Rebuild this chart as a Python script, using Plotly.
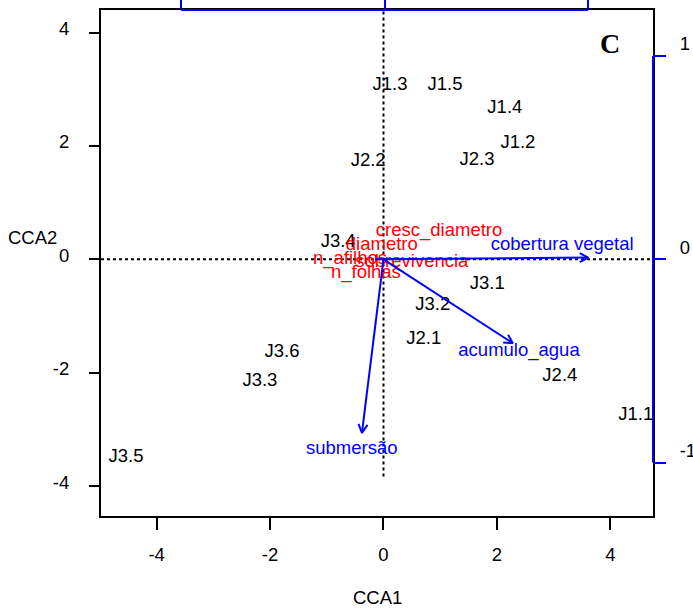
import numpy as np
import plotly.graph_objects as go

# --- data ---
site_labels = ["J1.3", "J1.5", "J1.4", "J1.2", "J2.3", "J2.2", "J3.4", "J3.1",
               "J3.2", "J2.1", "J3.6", "J3.3", "J2.4", "J1.1", "J3.5"]
site_x = [0.115, 1.085, 2.14, 2.37, 1.65, -0.27, -0.80, 1.83,
          0.87, 0.71, -1.79, -2.18, 3.11, 4.45, -4.54]
site_y = [3.07, 3.06, 2.67, 2.05, 1.75, 1.72, 0.30, -0.45,
          -0.82, -1.41, -1.65, -2.15, -2.07, -2.76, -3.50]

species_labels = ["cresc_diametro", "diametro", "n_afilhos", "sobrevivencia", "n_folhas"]
species_x = [0.98, -0.03, -0.59, 0.50, -0.31]
species_y = [0.50, 0.25, 0.00, -0.05, -0.24]

env_labels = ["cobertura vegetal", "acumulo_agua", "submersão"]
env_start_x = [-0.15, 0.0, 0.0]
env_start_y = [0.0, 0.0, 0.0]
env_tip_x = [3.61, 2.28, -0.38]
env_tip_y = [0.03, -1.48, -3.06]
env_label_x = [3.15, 2.39, -0.56]
env_label_y = [0.25, -1.63, -3.36]

x_ticks = [-4, -2, 0, 2, 4]
y_ticks = [-4, -2, 0, 2, 4]
blue_ticks = [-1, 0, 1]

x_range = [-4.982, 4.753]
y_range = [-4.527, 4.397]
x2_range = [-1.393, 1.319]
y2_range = [-1.263, 1.226]

FONT = "Liberation Sans, Arial, sans-serif"
BLUE = "#0000FF"
RED = "#FF0000"
FS = 18.5

fig = go.Figure()

# reference lines (dotted)
fig.add_trace(go.Scatter(x=[x_range[0], x_range[1]], y=[0, 0], mode="lines",
                         line=dict(color="black", width=2, dash="dot"),
                         hoverinfo="skip", showlegend=False))
fig.add_trace(go.Scatter(x=[0, 0], y=[-3.83, y_range[1]], mode="lines",
                         line=dict(color="black", width=2, dash="dot"),
                         hoverinfo="skip", showlegend=False))

# site labels
fig.add_trace(go.Scatter(x=site_x, y=site_y, mode="text", text=site_labels,
                         textfont=dict(family=FONT, size=FS, color="black"),
                         textposition="middle center", showlegend=False))

# species labels
fig.add_trace(go.Scatter(x=species_x, y=species_y, mode="text", text=species_labels,
                         textfont=dict(family=FONT, size=FS, color=RED),
                         textposition="middle center", showlegend=False))

# environmental arrows
L = 0.17
ang = np.deg2rad(28)
for sx, sy, tx, ty in zip(env_start_x, env_start_y, env_tip_x, env_tip_y):
    fig.add_trace(go.Scatter(x=[sx, tx], y=[sy, ty], mode="lines",
                             line=dict(color=BLUE, width=2),
                             hoverinfo="skip", showlegend=False))
    th = np.arctan2(ty - sy, tx - sx)
    hx = [tx - L * np.cos(th - ang), tx, tx - L * np.cos(th + ang)]
    hy = [ty - L * np.sin(th - ang), ty, ty - L * np.sin(th + ang)]
    fig.add_trace(go.Scatter(x=hx, y=hy, mode="lines",
                             line=dict(color=BLUE, width=2),
                             hoverinfo="skip", showlegend=False))

fig.add_trace(go.Scatter(x=env_label_x, y=env_label_y, mode="text", text=env_labels,
                         textfont=dict(family=FONT, size=FS, color=BLUE),
                         textposition="middle center", showlegend=False))

# dummy traces to activate secondary axes
fig.add_trace(go.Scatter(x=[0], y=[0], xaxis="x2", yaxis="y", mode="markers",
                         marker=dict(opacity=0), hoverinfo="skip", showlegend=False))
fig.add_trace(go.Scatter(x=[0], y=[0], xaxis="x", yaxis="y2", mode="markers",
                         marker=dict(opacity=0), hoverinfo="skip", showlegend=False))

fig.update_layout(
    width=693, height=609,
    margin=dict(l=101, r=40, t=10, b=93, autoexpand=False),
    paper_bgcolor="white", plot_bgcolor="white",
    font=dict(family=FONT, size=FS, color="black"),
    xaxis=dict(range=x_range, tickvals=x_ticks, ticktext=[str(v) for v in x_ticks],
               showgrid=False, zeroline=False, showline=True, mirror=True,
               linecolor="black", linewidth=2, ticks="outside", ticklen=12,
               tickwidth=2, tickcolor="black", ticklabelstandoff=9,
               automargin=False,
               tickfont=dict(family=FONT, size=FS, color="black")),
    yaxis=dict(range=y_range, tickvals=y_ticks, ticktext=[str(v) for v in y_ticks],
               showgrid=False, zeroline=False, showline=True, mirror=True,
               linecolor="black", linewidth=2, ticks="outside", ticklen=10,
               tickwidth=2, tickcolor="black", ticklabelstandoff=16,
               ticklabelshift=-4, automargin=False,
               tickfont=dict(family=FONT, size=FS, color="black")),
    xaxis2=dict(range=x2_range, overlaying="x", side="top", anchor="y",
                tickvals=blue_ticks, showticklabels=False, showgrid=False,
                zeroline=False, showline=False, ticks="outside", ticklen=10,
                tickwidth=2, tickcolor=BLUE, automargin=False),
    yaxis2=dict(range=y2_range, overlaying="y", side="right", anchor="x",
                tickvals=blue_ticks, ticktext=[str(v) for v in blue_ticks],
                showgrid=False, zeroline=False, showline=False, ticks="outside",
                ticklen=12, tickwidth=2, tickcolor=BLUE, ticklabelstandoff=10,
                ticklabelshift=-12, automargin=False,
                tickfont=dict(family=FONT, size=FS, color="black")),
    showlegend=False,
)

# blue axis segments between -1 and 1
fig.add_shape(type="line", xref="x2", yref="paper", x0=blue_ticks[0], x1=blue_ticks[-1],
              y0=1, y1=1, line=dict(color=BLUE, width=2))
fig.add_shape(type="line", xref="paper", yref="y2", x0=1, x1=1,
              y0=blue_ticks[0], y1=blue_ticks[-1], line=dict(color=BLUE, width=2))

# axis titles and panel letter
fig.add_annotation(text="CCA1", xref="paper", yref="paper", x=0.5, y=-0.162,
                   showarrow=False, font=dict(family=FONT, size=FS, color="black"),
                   xanchor="center", yanchor="middle")
fig.add_annotation(text="CCA2", xref="paper", yref="y", x=-0.124, y=0.38,
                   showarrow=False, font=dict(family=FONT, size=FS, color="black"),
                   xanchor="center", yanchor="middle")
fig.add_annotation(text="<b>C</b>", xref="x", yref="y", x=3.99, y=3.81,
                   showarrow=False,
                   font=dict(family="Liberation Serif, Times New Roman, serif", size=28,
                             color="black"),
                   xanchor="center", yanchor="middle")

fig.write_html("out.html", config={"displayModeBar": False},
               post_script="document.body.style.margin='0';document.body.style.overflow='hidden';")
